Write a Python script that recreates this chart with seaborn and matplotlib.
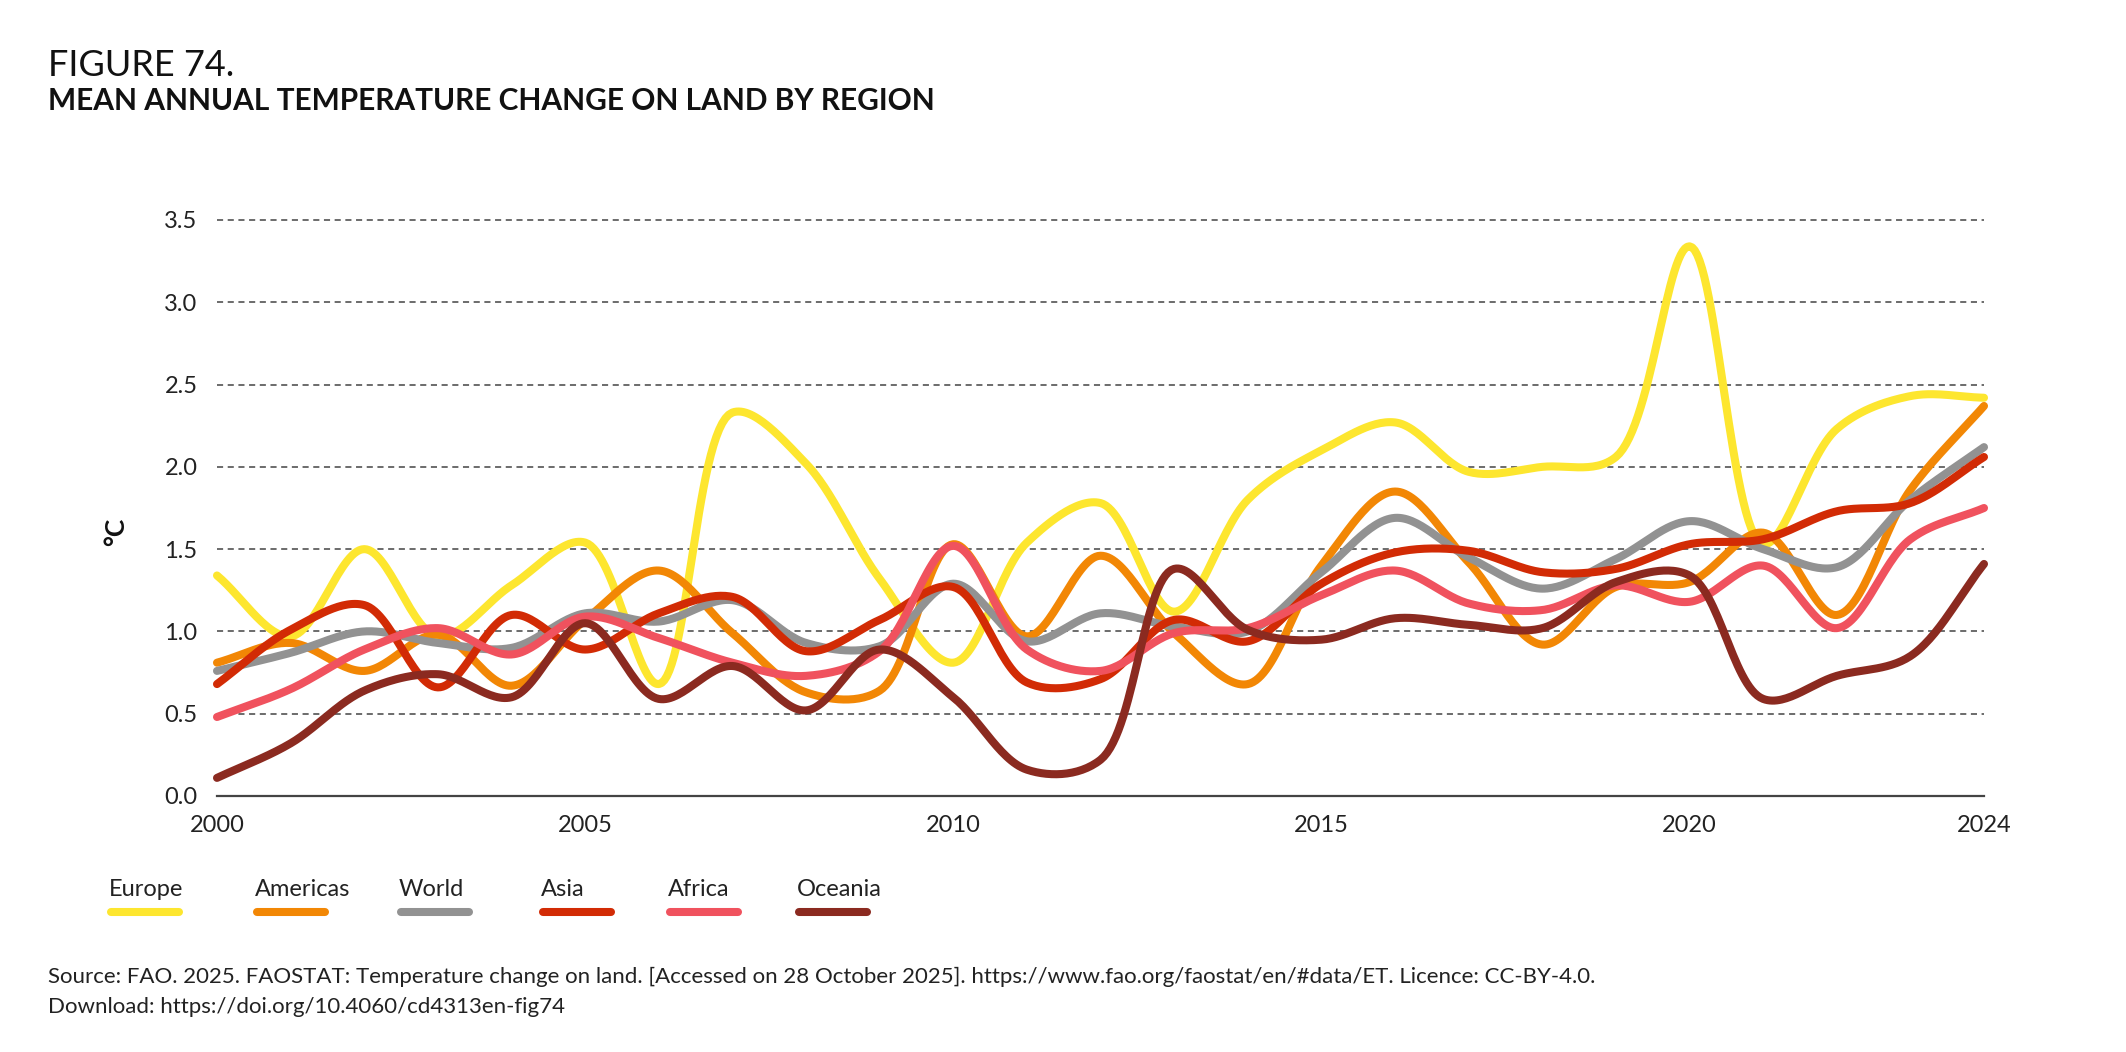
import numpy as np
import pandas as pd
import matplotlib
matplotlib.use('Agg')
import matplotlib.pyplot as plt
import seaborn as sns
from matplotlib.lines import Line2D

# values (°C, one per year)
years = list(range(2000, 2025))
europe = [1.34, 0.97, 1.50, 0.97, 1.28, 1.54, 0.68, 2.33, 2.02, 1.32, 0.81, 1.54, 1.78,
          1.12, 1.80, 2.10, 2.27, 1.97, 2.00, 2.06, 3.34, 1.53, 2.23, 2.43, 2.42]
americas = [0.81, 0.93, 0.76, 0.98, 0.67, 1.07, 1.37, 0.99, 0.63, 0.64, 1.53, 0.97, 1.46,
            0.99, 0.68, 1.40, 1.85, 1.42, 0.92, 1.27, 1.30, 1.60, 1.10, 1.86, 2.37]
world = [0.76, 0.87, 1.00, 0.93, 0.90, 1.11, 1.06, 1.19, 0.93, 0.91, 1.29, 0.94, 1.11,
         1.03, 1.00, 1.36, 1.69, 1.45, 1.26, 1.44, 1.67, 1.50, 1.39, 1.80, 2.12]
asia = [0.68, 1.01, 1.16, 0.66, 1.10, 0.89, 1.11, 1.21, 0.88, 1.07, 1.27, 0.69, 0.71,
        1.07, 0.94, 1.29, 1.48, 1.49, 1.36, 1.38, 1.53, 1.56, 1.73, 1.78, 2.06]
africa = [0.48, 0.65, 0.89, 1.02, 0.86, 1.09, 0.96, 0.81, 0.73, 0.88, 1.52, 0.89, 0.76,
          0.99, 1.02, 1.22, 1.37, 1.17, 1.13, 1.28, 1.18, 1.40, 1.02, 1.56, 1.75]
oceania = [0.11, 0.32, 0.64, 0.74, 0.60, 1.05, 0.59, 0.79, 0.52, 0.89, 0.60, 0.16, 0.22,
           1.38, 1.01, 0.95, 1.08, 1.04, 1.02, 1.30, 1.34, 0.59, 0.73, 0.85, 1.41]

regions = ['Europe', 'Americas', 'World', 'Asia', 'Africa', 'Oceania']
series = [europe, americas, world, asia, africa, oceania]
colors = ['#FDE62F', '#F28705', '#929292', '#D22B05', '#F0525E', '#8B2A20']
xtick_labels = {2000: '2000', 2005: '2005', 2010: '2010', 2015: '2015', 2020: '2020', 2024: '2024'}


def smooth(x, y, steps=30, yscale=2.235):
    # centripetal catmull-rom through every point (screen-ish space), drawing only
    P = np.column_stack([np.asarray(x, float), np.asarray(y, float) * yscale])
    P = np.vstack([2 * P[0] - P[1], P, 2 * P[-1] - P[-2]])
    out = []
    for i in range(len(P) - 3):
        p0, p1, p2, p3 = P[i], P[i + 1], P[i + 2], P[i + 3]
        t0 = 0.0
        t1 = t0 + np.linalg.norm(p1 - p0) ** 0.5
        t2 = t1 + np.linalg.norm(p2 - p1) ** 0.5
        t3 = t2 + np.linalg.norm(p3 - p2) ** 0.5
        t = np.linspace(t1, t2, steps, endpoint=(i == len(P) - 4))[:, None]
        a1 = (t1 - t) / (t1 - t0) * p0 + (t - t0) / (t1 - t0) * p1
        a2 = (t2 - t) / (t2 - t1) * p1 + (t - t1) / (t2 - t1) * p2
        a3 = (t3 - t) / (t3 - t2) * p2 + (t - t2) / (t3 - t2) * p3
        b1 = (t2 - t) / (t2 - t0) * a1 + (t - t0) / (t2 - t0) * a2
        b2 = (t3 - t) / (t3 - t1) * a2 + (t - t1) / (t3 - t1) * a3
        out.append((t2 - t) / (t2 - t1) * b1 + (t - t1) / (t2 - t1) * b2)
    c = np.vstack(out)
    return c[:, 0], c[:, 1] / yscale


frames = []
for name, vals in zip(regions, series):
    sx, sy = smooth(years, vals)
    frames.append(pd.DataFrame({'year': sx, 'value': sy, 'region': name}))
df = pd.concat(frames, ignore_index=True)

sns.set_theme(style='white')
plt.rcParams['font.family'] = ['Lato', 'DejaVu Sans']

W, H = 2126, 1052
fig = plt.figure(figsize=(W / 100, H / 100), dpi=100)
ax = fig.add_axes([217 / W, 1 - 796 / H, (1984 - 217) / W, (796 - 220) / H])

for name, col in zip(regions, colors):
    sns.lineplot(data=df[df.region == name], x='year', y='value', color=col, lw=5.8,
                 estimator=None, sort=False, ax=ax, legend=False,
                 solid_capstyle='round', clip_on=False)

ax.set_xlim(2000, 2024)
ax.set_ylim(0, 3.5)
ax.set_yticks(np.arange(0, 3.51, 0.5))
ax.set_yticklabels([f'{v:.1f}' for v in np.arange(0, 3.51, 0.5)], fontsize=17, color='#222222')
ax.set_xticks(years)
ax.set_xticklabels([xtick_labels.get(y, '') for y in years], fontsize=17, color='#222222')
ax.tick_params(axis='y', length=0, pad=14)
ax.tick_params(axis='x', length=10, width=1.3, color='#777777', direction='out', pad=4)
ax.yaxis.grid(True, linestyle=(0, (4, 3)), color='#444444', lw=1.1)
ax.xaxis.grid(False)
for gl in ax.get_ygridlines():
    gl.set_clip_on(False)
ax.set_axisbelow(True)
for s in ['left', 'top', 'right']:
    ax.spines[s].set_visible(False)
ax.spines['bottom'].set_color('#444444')
ax.spines['bottom'].set_linewidth(1.6)
ax.set_xlabel('')
ax.set_ylabel('')

fig.text(116 / W, 1 - 532 / H, '°C', rotation=90, fontsize=19, weight='bold',
         ha='center', va='center', color='#111111')

# titles
fig.text(48 / W, 1 - 66 / H, 'FIGURE 74.', fontsize=26, ha='left', va='center', color='#111111')
fig.text(48 / W, 1 - 101 / H, 'MEAN ANNUAL TEMPERATURE CHANGE ON LAND BY REGION', fontsize=21.5,
         weight='bold', ha='left', va='center', color='#111111')

# legend: label with a thick stroke underneath
leg_x = [109, 255, 399, 541, 668, 797]
for name, col, lx in zip(regions, colors, leg_x):
    fig.text(lx / W, 1 - 889 / H, name, fontsize=17, ha='left', va='center', color='#222222')
    fig.add_artist(Line2D([(lx + 2) / W, (lx + 70) / W], [1 - 912 / H, 1 - 912 / H],
                          color=col, lw=5.8, solid_capstyle='round'))

fig.text(48 / W, 1 - 977 / H,
         'Source: FAO. 2025. FAOSTAT: Temperature change on land. [Accessed on 28 October 2025]. '
         'https://www.fao.org/faostat/en/#data/ET. Licence: CC-BY-4.0.',
         fontsize=16, ha='left', va='center', color='#222222')
fig.text(48 / W, 1 - 1007 / H, 'Download: https://doi.org/10.4060/cd4313en-fig74',
         fontsize=16, ha='left', va='center', color='#222222')

fig.savefig('out.png', dpi=100)
